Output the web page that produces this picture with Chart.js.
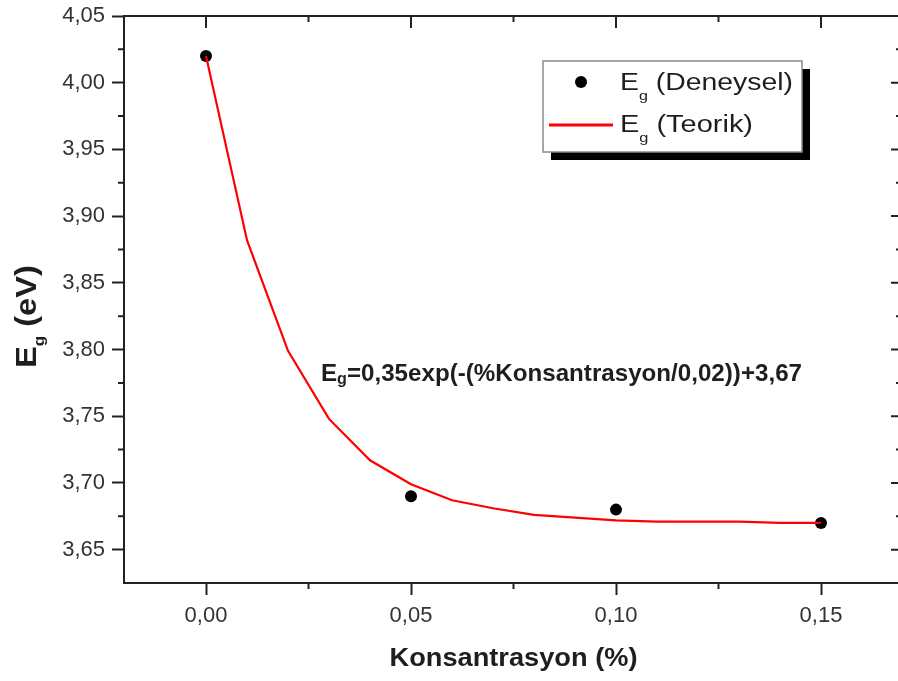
<!DOCTYPE html>
<html><head><meta charset="utf-8">
<script src="https://cdn.jsdelivr.net/npm/chart.js@4.4.1/dist/chart.umd.min.js"></script>
<style>
html,body{margin:0;padding:0;background:#fff;overflow:hidden;}
canvas{display:block;}
</style></head><body>
<canvas id="c" width="898" height="681" style="width:898px;height:681px"></canvas>
<script>
// ---- data ----
const expX = [0.00, 0.05, 0.10, 0.15];
const expY = [4.02, 3.69, 3.68, 3.67];
const fitX = [0.00, 0.01, 0.02, 0.03, 0.04, 0.05, 0.06, 0.07, 0.08, 0.09, 0.10, 0.11, 0.12, 0.13, 0.14, 0.15];
const fitY = [4.020, 3.882, 3.799, 3.748, 3.717, 3.699, 3.687, 3.681, 3.676, 3.674, 3.672, 3.671, 3.671, 3.671, 3.670, 3.670];
const xTicks = [0.00, 0.05, 0.10, 0.15];
const xMinorTicks = [0.025, 0.075, 0.125];
const yTicks = [3.65, 3.70, 3.75, 3.80, 3.85, 3.90, 3.95, 4.00, 4.05];
const yMinorTicks = [3.675, 3.725, 3.775, 3.825, 3.875, 3.925, 3.975, 4.025];
const xTitle = 'Konsantrasyon (%)';
const yTitle = ['E', 'g', ' (eV)'];
const legendLabels = [['E', 'g', ' (Deneysel)'], ['E', 'g', ' (Teorik)']];
const equation = ['E', 'g', '=0,35exp(-(%Konsantrasyon/0,02))+3,67'];

// the original picture is cropped just inside its right axis (0,17)
const X_MIN = -0.02, X_AXIS_END = 0.17, X_PX_PER_UNIT = 4100;
const Y_MIN = 3.625, Y_MAX = 4.05;

const FONT = '"Liberation Sans", Arial, sans-serif';
const AXIS = '#222';
const fmt = v => v.toFixed(2).replace('.', ',');

function rich(ctx, x, y, segs, targetW) {
  let total = 0;
  const widths = segs.map(s => { ctx.font = s.font; const w = ctx.measureText(s.text).width; total += w; return w; });
  const sc = targetW ? targetW / total : 1;
  ctx.save();
  ctx.translate(x, y);
  ctx.scale(sc, 1);
  let cx = 0;
  segs.forEach((s, i) => {
    ctx.font = s.font;
    ctx.fillText(s.text, cx, s.dy || 0);
    cx += widths[i];
  });
  ctx.restore();
}

const framePlugin = {
  id: 'frame',
  afterDraw(chart) {
    const ctx = chart.ctx;
    const {left, top, right, bottom} = chart.chartArea;
    const xs = chart.scales.x, ys = chart.scales.y;
    const rAxis = xs.getPixelForValue(X_AXIS_END);
    ctx.save();
    ctx.strokeStyle = AXIS;
    ctx.lineWidth = 2;
    ctx.beginPath();
    ctx.moveTo(left - 1, top); ctx.lineTo(rAxis, top);
    ctx.moveTo(right - 1, bottom); ctx.lineTo(rAxis, bottom);
    ctx.moveTo(rAxis, top); ctx.lineTo(rAxis, bottom);
    xMinorTicks.forEach(v => { const p = xs.getPixelForValue(v); ctx.moveTo(p, bottom); ctx.lineTo(p, bottom + 6); });
    xTicks.forEach(v => { const p = xs.getPixelForValue(v); ctx.moveTo(p, top); ctx.lineTo(p, top + 12); });
    xMinorTicks.forEach(v => { const p = xs.getPixelForValue(v); ctx.moveTo(p, top); ctx.lineTo(p, top + 6); });
    yMinorTicks.forEach(v => { const p = ys.getPixelForValue(v); ctx.moveTo(left, p); ctx.lineTo(left - 6, p); });
    yTicks.forEach(v => { const p = ys.getPixelForValue(v); ctx.moveTo(rAxis, p); ctx.lineTo(rAxis - 12, p); });
    yMinorTicks.forEach(v => { const p = ys.getPixelForValue(v); ctx.moveTo(rAxis, p); ctx.lineTo(rAxis - 7, p); });
    ctx.stroke();

    ctx.fillStyle = '#1e1e1e';
    ctx.textBaseline = 'alphabetic';
    ctx.textAlign = 'left';
    const xtw = 248;
    const xCenter = (left + rAxis) / 2;
    rich(ctx, xCenter - xtw / 2, 666, [{text: xTitle, font: 'bold 26px ' + FONT}], xtw);
    ctx.save();
    ctx.translate(36, 368);
    ctx.rotate(-Math.PI / 2);
    rich(ctx, 0, 0, [
      {text: yTitle[0], font: 'bold 29px ' + FONT},
      {text: yTitle[1], font: 'bold 15px ' + FONT, dy: 8},
      {text: yTitle[2], font: 'bold 29px ' + FONT}
    ], 103);
    ctx.restore();
    rich(ctx, 321, 381, [
      {text: equation[0], font: 'bold 24px ' + FONT},
      {text: equation[1], font: 'bold 16px ' + FONT, dy: 3},
      {text: equation[2], font: 'bold 24px ' + FONT}
    ], 481);

    const lx = 543, ly = 61, lw = 259, lh = 91;
    ctx.fillStyle = '#000';
    ctx.fillRect(lx + 8, ly + 8, lw, lh);
    ctx.fillStyle = '#fff';
    ctx.fillRect(lx, ly, lw, lh);
    ctx.strokeStyle = '#8a8a8a';
    ctx.lineWidth = 1.5;
    ctx.strokeRect(lx, ly, lw, lh);
    const dsPts = chart.data.datasets[1], dsLine = chart.data.datasets[0];
    ctx.fillStyle = dsPts.pointBackgroundColor;
    ctx.beginPath(); ctx.arc(581, 82, 6, 0, Math.PI * 2); ctx.fill();
    ctx.strokeStyle = dsLine.borderColor;
    ctx.lineWidth = 3;
    ctx.beginPath(); ctx.moveTo(549, 125); ctx.lineTo(613, 125); ctx.stroke();
    ctx.fillStyle = '#1e1e1e';
    const legW = [173, 133], legY = [90, 132];
    legendLabels.forEach((lab, i) => {
      rich(ctx, 620, legY[i], [
        {text: lab[0], font: '23px ' + FONT},
        {text: lab[1], font: '13px ' + FONT, dy: 10},
        {text: lab[2], font: '23px ' + FONT}
      ], legW[i]);
    });
    ctx.restore();
  }
};

function noEdgePadding(s) {
  s.paddingLeft = 0; s.paddingRight = 0; s.paddingTop = 0; s.paddingBottom = 0;
}

const chart = new Chart(document.getElementById('c').getContext('2d'), {
  type: 'scatter',
  data: {
    datasets: [
      {
        label: 'Eg (Teorik)',
        data: fitX.map((x, i) => ({x: x, y: fitY[i]})),
        showLine: true, borderColor: '#ff0000', borderWidth: 2.2,
        pointRadius: 0, tension: 0, order: 0
      },
      {
        label: 'Eg (Deneysel)',
        data: expX.map((x, i) => ({x: x, y: expY[i]})),
        showLine: false, pointRadius: 6, pointBackgroundColor: '#000',
        pointBorderColor: '#000', pointBorderWidth: 0, order: 1
      }
    ]
  },
  options: {
    responsive: false, animation: false, devicePixelRatio: 1,
    layout: {padding: {top: 16, right: 0, left: 0, bottom: 0}},
    plugins: {legend: {display: false}, tooltip: {enabled: false}},
    scales: {
      x: {
        type: 'linear', position: 'bottom', min: X_MIN, max: 0.1688,
        afterBuildTicks: s => { s.ticks = xTicks.map(v => ({value: v})); },
        afterFit: s => { s.height = 98; noEdgePadding(s); },
        grid: {drawOnChartArea: false, drawTicks: true, tickLength: 12, tickWidth: 2, tickColor: AXIS},
        border: {display: true, color: AXIS, width: 2},
        ticks: {callback: v => fmt(v), font: {family: FONT, size: 22}, color: '#333', padding: 8, maxRotation: 0, autoSkip: false}
      },
      y: {
        type: 'linear', position: 'left', min: Y_MIN, max: Y_MAX,
        afterBuildTicks: s => { s.ticks = yTicks.map(v => ({value: v})); },
        afterFit: s => { s.width = 124; noEdgePadding(s); },
        grid: {drawOnChartArea: false, drawTicks: true, tickLength: 12, tickWidth: 2, tickColor: AXIS},
        border: {display: true, color: AXIS, width: 2},
        ticks: {callback: v => fmt(v), font: {family: FONT, size: 22}, color: '#333', padding: 7, autoSkip: false}
      }
    }
  },
  plugins: [framePlugin]
});
// keep the original pixel scale: the visible x window ends where the chart area ends
const ca = chart.chartArea;
chart.options.scales.x.max = X_MIN + (ca.right - ca.left) / X_PX_PER_UNIT;
chart.update();
</script>
</body></html>
